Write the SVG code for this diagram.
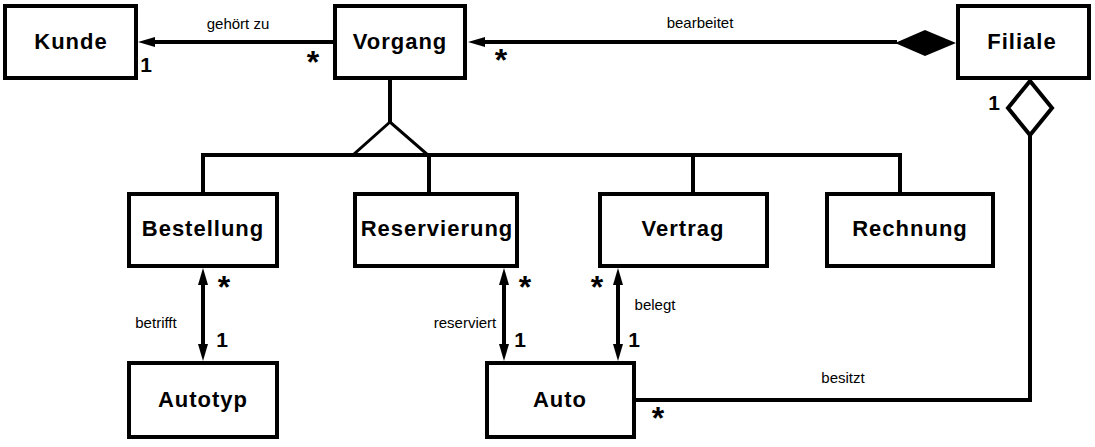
<svg xmlns="http://www.w3.org/2000/svg" width="1095" height="447" viewBox="0 0 1095 447">
<style>
.box{fill:#fff;stroke:#000;stroke-width:4}
.lbl{font-family:"Liberation Sans",Arial,sans-serif;font-weight:bold;font-size:22px;letter-spacing:1px;text-anchor:middle;fill:#000}
.ln{fill:none;stroke:#000;stroke-width:4}
.thin{fill:none;stroke:#000;stroke-width:3}
.txt{font-family:"Liberation Sans",Arial,sans-serif;font-size:15px;text-anchor:middle;fill:#000}
.one{font-family:"Liberation Sans",Arial,sans-serif;font-weight:bold;font-size:21px;text-anchor:middle;fill:#000}
.star{font-family:"Liberation Sans",Arial,sans-serif;font-weight:bold;font-size:32px;text-anchor:middle;fill:#000}
</style>
<defs>
<marker id="arr" markerUnits="userSpaceOnUse" markerWidth="18" markerHeight="12" viewBox="0 0 18 12" refX="6" refY="6" orient="auto-start-reverse">
<path d="M0,1 L17,6 L0,11 z" fill="#000"/>
</marker>
</defs>
<rect width="1095" height="447" fill="#fff"/>
<g id="connectors">
<line class="ln" x1="333" y1="42" x2="149" y2="42" marker-end="url(#arr)"/>
<line class="ln" x1="897" y1="42" x2="479" y2="42" marker-end="url(#arr)"/>
<polygon points="895,43 925,30 956,43 925,56" fill="#000"/>
<line class="ln" x1="390" y1="80" x2="390" y2="122"/>
<polygon class="thin" points="390,122 353,155 428,155"/>
<polyline class="ln" points="203,194 203,155 900,155 900,194"/>
<line class="ln" x1="429" y1="155" x2="429" y2="194"/>
<line class="ln" x1="693" y1="155" x2="693" y2="194"/>
<line class="ln" x1="203" y1="279" x2="203" y2="350" marker-start="url(#arr)" marker-end="url(#arr)"/>
<line class="ln" x1="504" y1="279" x2="504" y2="350" marker-start="url(#arr)" marker-end="url(#arr)"/>
<line class="ln" x1="618" y1="279" x2="618" y2="350" marker-start="url(#arr)" marker-end="url(#arr)"/>
<polyline class="ln" points="636,400 1030,400 1030,135"/>
<polygon points="1030,81 1008,108 1030,135 1052,108" fill="#fff" stroke="#000" stroke-width="4"/>
<text class="txt" x="238" y="29">gehört zu</text>
<text class="txt" x="700" y="28">bearbeitet</text>
<text class="txt" x="156" y="328">betrifft</text>
<text class="txt" x="465" y="328">reserviert</text>
<text class="txt" x="655" y="310">belegt</text>
<text class="txt" x="843" y="383">besitzt</text>
<text class="one" x="146" y="72">1</text>
<text class="one" x="994" y="110">1</text>
<text class="one" x="222" y="347">1</text>
<text class="one" x="520" y="347">1</text>
<text class="one" x="634" y="347">1</text>
<text class="star" x="313" y="73">*</text>
<text class="star" x="501" y="71">*</text>
<text class="star" x="224" y="298">*</text>
<text class="star" x="525" y="298">*</text>
<text class="star" x="597" y="298">*</text>
<text class="star" x="658" y="429">*</text>
</g>
<g id="Kunde"><rect class="box" x="5" y="6" width="131" height="72"/><text class="lbl" x="71" y="49">Kunde</text></g>
<g id="Vorgang"><rect class="box" x="335" y="6" width="130" height="72"/><text class="lbl" x="400" y="49">Vorgang</text></g>
<g id="Filiale"><rect class="box" x="958" y="6" width="131" height="72"/><text class="lbl" x="1022" y="49">Filiale</text></g>
<g id="Bestellung"><rect class="box" x="129" y="194" width="148" height="72"/><text class="lbl" x="203" y="236">Bestellung</text></g>
<g id="Reservierung"><rect class="box" x="355" y="194" width="162" height="72"/><text class="lbl" x="437" y="236">Reservierung</text></g>
<g id="Vertrag"><rect class="box" x="600" y="194" width="167" height="72"/><text class="lbl" x="683" y="236">Vertrag</text></g>
<g id="Rechnung"><rect class="box" x="827" y="194" width="166" height="72"/><text class="lbl" x="910" y="236">Rechnung</text></g>
<g id="Autotyp"><rect class="box" x="129" y="363" width="148" height="74"/><text class="lbl" x="203" y="407">Autotyp</text></g>
<g id="Auto"><rect class="box" x="487" y="363" width="147" height="74"/><text class="lbl" x="560" y="407">Auto</text></g>
</svg>
